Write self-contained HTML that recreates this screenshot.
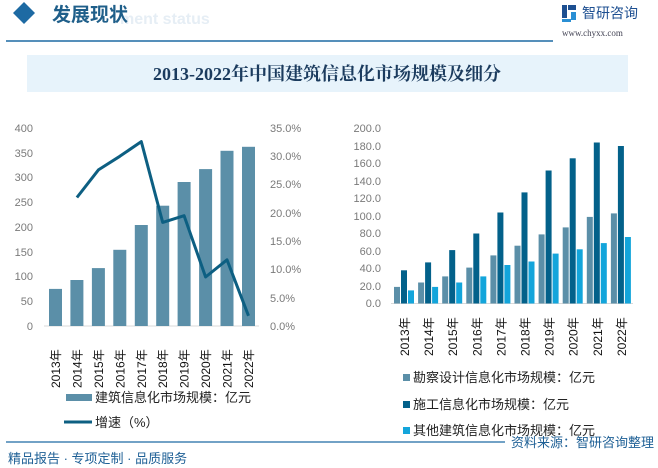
<!DOCTYPE html>
<html><head><meta charset="utf-8"><style>
html,body{margin:0;padding:0;background:#fff}
svg{display:block}
text{font-family:"Liberation Sans","Noto Sans CJK SC",sans-serif}
text.serif{font-family:"Liberation Serif","Noto Serif CJK SC",serif}
</style></head><body>
<svg width="658" height="468" viewBox="0 0 658 468" xmlns="http://www.w3.org/2000/svg">
<rect width="658" height="468" fill="#fff"/>
<polygon points="24,2 35,13 24,24 13,13" fill="#1d6aa3"/>
<text x="120" y="24" font-size="16" font-weight="bold" fill="#e6eef5">ment status</text>
<text x="52" y="21" font-size="19" font-weight="bold" fill="#1f5f8a">发展现状</text>
<line x1="6" y1="41" x2="553" y2="41" stroke="#1d6aa3" stroke-width="1.5"/>
<g transform="translate(562,5)">
<rect x="0" y="0" width="5" height="13" fill="#1d4f91"/><rect x="6" y="0" width="8" height="5" fill="#1d4f91"/><rect x="9" y="7" width="5" height="8" fill="#2a8fd4"/><rect x="0" y="14" width="9" height="3" fill="#2a8fd4"/>
</g>
<text x="582" y="18" font-size="14" fill="#1d4f91">智研咨询</text>
<text class="serif" x="562" y="36" font-size="9" fill="#445">www.chyxx.com</text>
<rect x="27" y="55" width="601" height="37" fill="#e7f3fb"/>
<text class="serif" x="327" y="80" font-size="18" font-weight="bold" fill="#1b3b5e" text-anchor="middle">2013-2022年中国建筑信息化市场规模及细分</text>

<g font-size="11" fill="#7a7a7a">
<text x="33" y="330" text-anchor="end">0</text>
<text x="33" y="305" text-anchor="end">50</text>
<text x="33" y="280" text-anchor="end">100</text>
<text x="33" y="256" text-anchor="end">150</text>
<text x="33" y="231" text-anchor="end">200</text>
<text x="33" y="206" text-anchor="end">250</text>
<text x="33" y="181" text-anchor="end">300</text>
<text x="33" y="157" text-anchor="end">350</text>
<text x="33" y="132" text-anchor="end">400</text>
<text x="270" y="330">0.0%</text>
<text x="270" y="302">5.0%</text>
<text x="270" y="273">10.0%</text>
<text x="270" y="245">15.0%</text>
<text x="270" y="217">20.0%</text>
<text x="270" y="188">25.0%</text>
<text x="270" y="160">30.0%</text>
<text x="270" y="132">35.0%</text>
</g>
<line x1="44" y1="326" x2="259" y2="326" stroke="#d9d9d9"/>
<g fill="#5b8fa8">
<rect x="49" y="288.9" width="13" height="37.1"/>
<rect x="70.4" y="280" width="13" height="46"/>
<rect x="91.9" y="268.1" width="13" height="57.9"/>
<rect x="113.3" y="249.8" width="13" height="76.2"/>
<rect x="134.8" y="225" width="13" height="101"/>
<rect x="156.2" y="205.7" width="13" height="120.3"/>
<rect x="177.6" y="182" width="13" height="144"/>
<rect x="199.1" y="169.1" width="13" height="156.9"/>
<rect x="220.5" y="150.8" width="13" height="175.2"/>
<rect x="242" y="146.8" width="13" height="179.2"/>
</g>
<polyline fill="none" stroke="#0d5f82" stroke-width="3" stroke-linejoin="round" points="76.9,197.5 98.4,169.9 119.8,156.3 141.3,141.6 162.7,222.4 184.1,215.7 205.6,277 227,259.8 248.5,315.8"/>
<g font-size="12" fill="#111">
<text transform="translate(60,388) rotate(-90)">2013年</text>
<text transform="translate(81.4,388) rotate(-90)">2014年</text>
<text transform="translate(102.9,388) rotate(-90)">2015年</text>
<text transform="translate(124.3,388) rotate(-90)">2016年</text>
<text transform="translate(145.8,388) rotate(-90)">2017年</text>
<text transform="translate(167.2,388) rotate(-90)">2018年</text>
<text transform="translate(188.6,388) rotate(-90)">2019年</text>
<text transform="translate(210.1,388) rotate(-90)">2020年</text>
<text transform="translate(231.5,388) rotate(-90)">2021年</text>
<text transform="translate(253,388) rotate(-90)">2022年</text>
</g>
<rect x="66" y="394" width="26" height="7" fill="#5b8fa8"/>
<text x="95" y="402" font-size="13" fill="#222">建筑信息化市场规模：亿元</text>
<line x1="64" y1="422" x2="92" y2="422" stroke="#0d5f82" stroke-width="3"/>
<text x="95" y="427" font-size="13" fill="#222">增速（%）</text>

<g font-size="11" fill="#7a7a7a" text-anchor="end">
<text x="381" y="307">0.0</text>
<text x="381" y="290">20.0</text>
<text x="381" y="272">40.0</text>
<text x="381" y="255">60.0</text>
<text x="381" y="237">80.0</text>
<text x="381" y="220">100.0</text>
<text x="381" y="202">120.0</text>
<text x="381" y="185">140.0</text>
<text x="381" y="167">160.0</text>
<text x="381" y="150">180.0</text>
<text x="381" y="132">200.0</text>
</g>
<line x1="391" y1="303.5" x2="633" y2="303.5" stroke="#d9d9d9"/>
<g fill="#5b8fa8">
<rect x="394" y="286.9" width="6" height="16.6"/>
<rect x="418.1" y="282.5" width="6" height="21"/>
<rect x="442.2" y="276.4" width="6" height="27.1"/>
<rect x="466.3" y="267.6" width="6" height="35.9"/>
<rect x="490.4" y="255.4" width="6" height="48.1"/>
<rect x="514.5" y="245.7" width="6" height="57.8"/>
<rect x="538.6" y="234.4" width="6" height="69.1"/>
<rect x="562.7" y="227.4" width="6" height="76.1"/>
<rect x="586.8" y="216.9" width="6" height="86.6"/>
<rect x="610.9" y="213.4" width="6" height="90.1"/>
</g>
<g fill="#03618a">
<rect x="401" y="270.3" width="6" height="33.2"/>
<rect x="425.1" y="262.4" width="6" height="41.1"/>
<rect x="449.2" y="250.1" width="6" height="53.4"/>
<rect x="473.3" y="233.5" width="6" height="70"/>
<rect x="497.4" y="212.5" width="6" height="91"/>
<rect x="521.5" y="192.4" width="6" height="111.1"/>
<rect x="545.6" y="170.5" width="6" height="133"/>
<rect x="569.7" y="158.3" width="6" height="145.2"/>
<rect x="593.8" y="142.5" width="6" height="161"/>
<rect x="617.9" y="146" width="6" height="157.5"/>
</g>
<g fill="#13a5db">
<rect x="408" y="290.4" width="6" height="13.1"/>
<rect x="432.1" y="286.9" width="6" height="16.6"/>
<rect x="456.2" y="282.5" width="6" height="21"/>
<rect x="480.3" y="276.4" width="6" height="27.1"/>
<rect x="504.4" y="265" width="6" height="38.5"/>
<rect x="528.5" y="261.5" width="6" height="42"/>
<rect x="552.6" y="253.6" width="6" height="49.9"/>
<rect x="576.7" y="249.3" width="6" height="54.2"/>
<rect x="600.8" y="243.1" width="6" height="60.4"/>
<rect x="624.9" y="237" width="6" height="66.5"/>
</g>
<g font-size="12" fill="#111">
<text transform="translate(409,356) rotate(-90)">2013年</text>
<text transform="translate(433.1,356) rotate(-90)">2014年</text>
<text transform="translate(457.2,356) rotate(-90)">2015年</text>
<text transform="translate(481.3,356) rotate(-90)">2016年</text>
<text transform="translate(505.4,356) rotate(-90)">2017年</text>
<text transform="translate(529.5,356) rotate(-90)">2018年</text>
<text transform="translate(553.6,356) rotate(-90)">2019年</text>
<text transform="translate(577.7,356) rotate(-90)">2020年</text>
<text transform="translate(601.8,356) rotate(-90)">2021年</text>
<text transform="translate(625.9,356) rotate(-90)">2022年</text>
</g>
<rect x="403" y="374" width="7" height="7" fill="#5b8fa8"/>
<text x="413" y="382" font-size="13" fill="#222">勘察设计信息化市场规模：亿元</text>
<rect x="403" y="401" width="7" height="7" fill="#03618a"/>
<text x="413" y="409" font-size="13" fill="#222">施工信息化市场规模：亿元</text>
<rect x="403" y="427" width="7" height="7" fill="#13a5db"/>
<text x="413" y="435" font-size="13" fill="#222">其他建筑信息化市场规模：亿元</text>

<line x1="6" y1="442" x2="505" y2="442" stroke="#1d6aa3" stroke-width="1.2"/>
<text x="8" y="463" font-size="13" fill="#1d5f95">精品报告 · 专项定制 · 品质服务</text>
<text x="654" y="447" font-size="13" fill="#1d5f95" text-anchor="end">资料来源：智研咨询整理</text>
</svg>
</body></html>
